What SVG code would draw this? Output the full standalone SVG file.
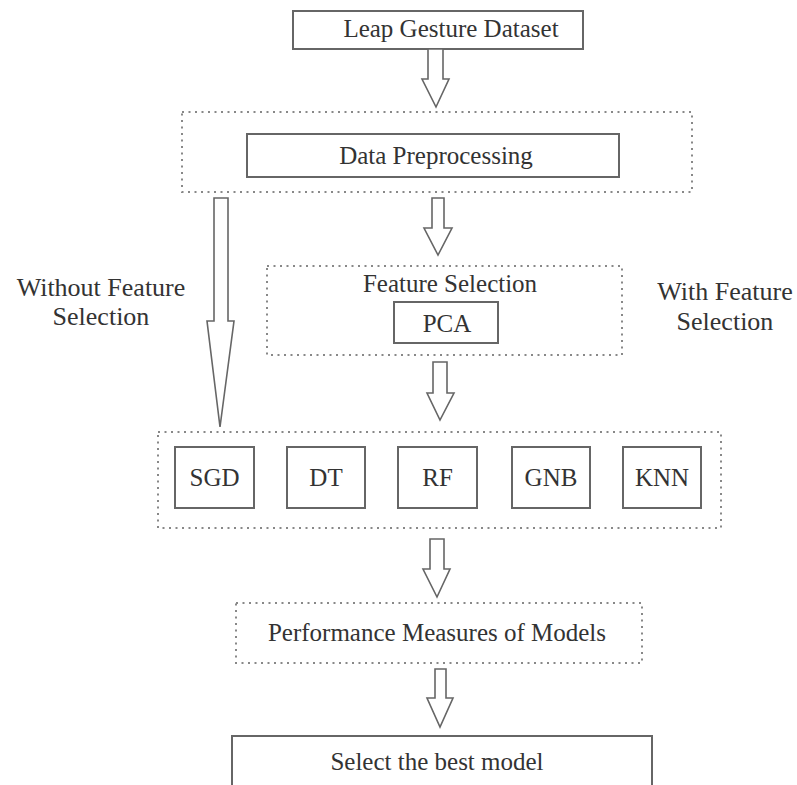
<svg xmlns="http://www.w3.org/2000/svg" width="797" height="785" viewBox="0 0 797 785">
<style>
  .box { fill: #fff; stroke: #666; stroke-width: 2; }
  .dot { fill: none; stroke: #888; stroke-width: 2; stroke-dasharray: 2 4.5; }
  .arr { fill: #fff; stroke: #666; stroke-width: 1.6; stroke-linejoin: miter; }
  text { font-family: "Liberation Serif", "Times New Roman", serif; font-size: 25px; fill: #333; text-anchor: middle; }
  .side { font-size: 26px; }
</style>
<rect width="797" height="785" fill="#fff"/>

<g id="leap">
  <rect class="box" x="293" y="11" width="290" height="38"/>
  <text x="451" y="37">Leap Gesture Dataset</text>
</g>

<g id="preprocessing">
  <rect class="dot" x="182" y="112" width="510" height="80"/>
  <rect class="box" x="247" y="134" width="372" height="43"/>
  <text x="436" y="164">Data Preprocessing</text>
</g>

<g id="feature-selection">
  <rect class="dot" x="267" y="266" width="355" height="89"/>
  <text x="450" y="292">Feature Selection</text>
  <g id="pca">
    <rect class="box" x="394" y="302" width="104" height="41"/>
    <text x="447" y="332">PCA</text>
  </g>
</g>

<g id="label-without">
  <text class="side" x="101" y="296">Without Feature</text>
  <text class="side" x="101" y="325">Selection</text>
</g>
<g id="label-with">
  <text class="side" x="725" y="300">With Feature</text>
  <text class="side" x="725" y="330">Selection</text>
</g>

<g id="models">
  <rect class="dot" x="158" y="432" width="563" height="96"/>
  <g id="sgd"><rect class="box" x="175" y="447" width="79" height="61"/><text x="214.5" y="486">SGD</text></g>
  <g id="dt"><rect class="box" x="287" y="447" width="78" height="61"/><text x="326" y="486">DT</text></g>
  <g id="rf"><rect class="box" x="398" y="447" width="79" height="61"/><text x="437.5" y="486">RF</text></g>
  <g id="gnb"><rect class="box" x="512" y="447" width="78" height="61"/><text x="551" y="486">GNB</text></g>
  <g id="knn"><rect class="box" x="623" y="447" width="78" height="61"/><text x="662" y="486">KNN</text></g>
</g>

<g id="performance">
  <rect class="dot" x="236" y="603" width="406" height="60"/>
  <text x="437" y="641">Performance Measures of Models</text>
</g>

<g id="select">
  <rect class="box" x="232" y="736" width="420" height="70"/>
  <text x="437" y="770">Select the best model</text>
</g>

<g id="connectors">
  <polygon class="arr" points="428,49 443,49 443,79 449,79 436,107 422,79 428,79"/>
  <polygon class="arr" points="432,198 444,198 444,228 452,228 438,255 424,228 432,228"/>
  <polygon class="arr" points="214,198 228,198 228,321 234,321 220,427 207,321 214,321"/>
  <polygon class="arr" points="433,362 447,362 447,393 454,393 440,420 427,393 433,393"/>
  <polygon class="arr" points="430,539 444,539 444,569 450,569 437,597 423,569 430,569"/>
  <polygon class="arr" points="435,669 446,669 446,698 453,698 440,727 427,698 435,698"/>
</g>
</svg>
